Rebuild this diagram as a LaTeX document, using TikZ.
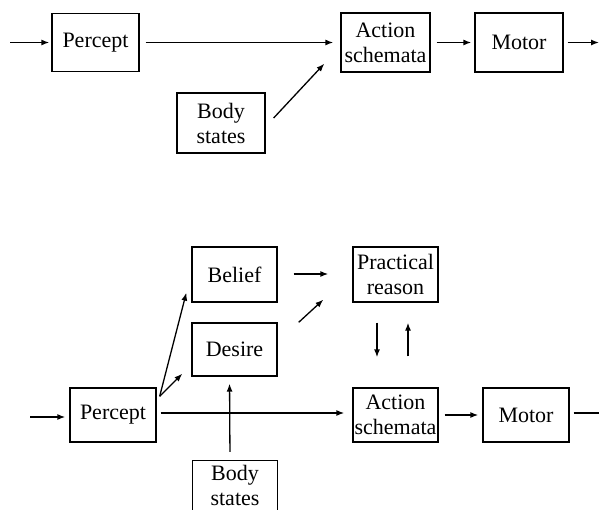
\documentclass[tikz,border=0pt]{standalone}
\usepackage{fontspec}
\setmainfont{Liberation Serif}
\usetikzlibrary{arrows.meta}
\tikzset{
  blk/.style={draw, line width=1.3pt, inner sep=0pt, align=center,
    font=\fontsize{22}{25}\selectfont},
  opentext/.style={inner sep=0pt, align=center, font=\fontsize{22}{25}\selectfont},
  arr/.style={line width=1.3pt, -{Latex[length=8pt,width=6pt]}},
  ln/.style={line width=1.3pt}
}
\begin{document}
\begin{tikzpicture}[x=1pt,y=-1pt]
\useasboundingbox (0,0) rectangle (599,510);
% ---------- top diagram ----------
\node[blk, minimum width=87pt, minimum height=58pt] (P1) at (95.5,42.5) {Percept};
\node[blk, minimum width=89pt, minimum height=59pt] (A1) at (385.5,42.5) {Action\\schemata};
\node[blk, minimum width=88pt, minimum height=59pt] (M1) at (519,42.5) {Motor};
\node[blk, minimum width=88pt, minimum height=60pt] (B1) at (221,123) {Body\\states};
\coordinate (in1) at (10,42.5);
\coordinate (out1) at (599,42.5);
\draw[arr, shorten >=2pt] (in1) -- (P1.west);
\draw[arr, shorten <=6pt, shorten >=7pt] (P1.east) -- (A1.west);
\draw[arr, shorten <=6pt, shorten >=3pt] (A1.east) -- (M1.west);
\draw[arr, shorten <=4pt] (M1.east) -- (out1);
\draw[arr] ([xshift=8pt,yshift=5pt]B1.east) -- ([xshift=-16pt,yshift=9pt]A1.south west);
% ---------- bottom diagram ----------
\node[blk, minimum width=85pt, minimum height=55pt] (Be) at (234.5,274.5) {Belief};
\node[blk, minimum width=85pt, minimum height=53pt] (De) at (234.5,349.5) {Desire};
\node[blk, minimum width=86pt, minimum height=54pt] (P2) at (113,415) {Percept};
\node[blk, minimum width=85pt, minimum height=55pt] (PR) at (395.5,274.5) {Practical\\reason};
\node[blk, minimum width=85pt, minimum height=54pt] (A2) at (395.5,415) {Action\\schemata};
\node[blk, minimum width=86pt, minimum height=54pt] (M2) at (526,415) {Motor};
\node[opentext, minimum width=84pt, minimum height=49pt] (B2) at (235,485.5) {Body\\states};
\draw[ln] (B2.south west) -- (B2.north west) -- (B2.north east) -- (B2.south east);
\coordinate (in2) at (30,417);
\coordinate (out2) at (599,413);
\draw[arr, shorten >=4pt] (in2) -- (in2 -| P2.west);
\draw[arr, shorten <=4pt, shorten >=8pt] ([yshift=2pt]P2.east) -- ([yshift=2pt]A2.west);
\draw[arr, shorten <=6pt, shorten >=4pt] (A2.east) -- (M2.west);
\draw[ln, shorten <=4pt] ([yshift=2pt]M2.east) -- (out2);
\draw[arr] ([xshift=3pt,yshift=-9pt]P2.north east) -- ([xshift=-5pt,yshift=10pt]Be.south west);
\draw[arr] ([xshift=3pt,yshift=-9pt]P2.north east) -- ([xshift=-9pt,yshift=3pt]De.south west);
\draw[arr, shorten <=9pt, shorten >=7pt] ([xshift=-5pt]B2.north) -- ([xshift=-5pt]De.south);
\draw[arr, shorten <=16pt, shorten >=24pt] ([yshift=0.5pt]Be.east) -- ([yshift=0.5pt]PR.west);
\draw[arr] ([xshift=21pt]De.north east) -- ([xshift=-29pt,yshift=3pt]PR.south west);
\draw[arr, shorten <=20pt, shorten >=30pt] ([xshift=-18.5pt]PR.south) -- ([xshift=-18.5pt]A2.north);
\draw[arr, shorten <=31pt, shorten >=20pt] ([xshift=12.5pt]A2.north) -- ([xshift=12.5pt]PR.south);
\end{tikzpicture}
\end{document}
